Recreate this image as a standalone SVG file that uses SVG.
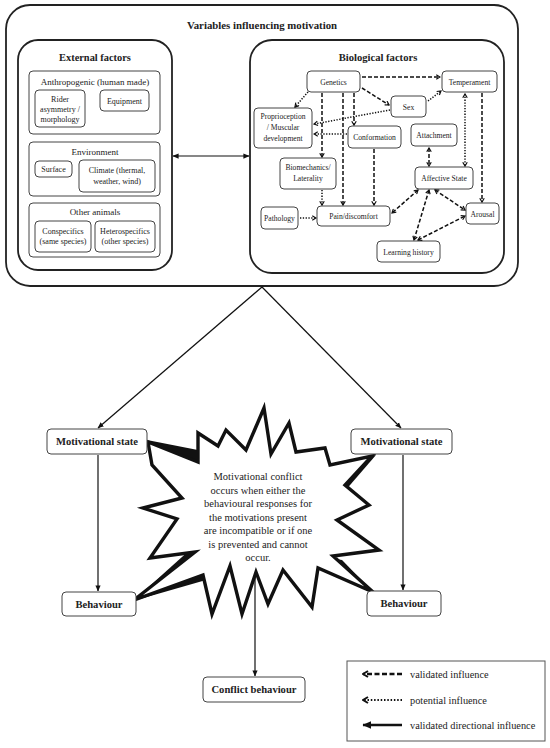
<svg xmlns="http://www.w3.org/2000/svg" width="550" height="748" viewBox="0 0 550 748">
<style>
text{font-family:"Liberation Serif","Times New Roman",serif;fill:#222;text-anchor:middle}
.b{font-weight:bold}
.big{stroke:#222;stroke-width:1.8;fill:#fff}
.grp{stroke:#444;stroke-width:1;fill:#fff}
.nd{stroke:#444;stroke-width:1;fill:#fff}
.t9{font-size:9px}
.t8{font-size:8px}
.t7{font-size:7.6px}
.da{stroke:#111;stroke-width:1.5;stroke-dasharray:4 2;fill:none}
.do{stroke:#111;stroke-width:1.5;stroke-dasharray:1.3 1.5;fill:none}
.so{stroke:#111;stroke-width:1.2;fill:none}
</style>
<defs>
<marker id="ch" viewBox="0 0 8 8" refX="6.5" refY="4" markerWidth="6" markerHeight="6" markerUnits="userSpaceOnUse" orient="auto-start-reverse">
<path d="M1.5,1 L6.5,4 L1.5,7" fill="none" stroke="#111" stroke-width="1.6"/>
</marker>
<marker id="chb" viewBox="0 0 8 8" refX="6.5" refY="4" markerWidth="8" markerHeight="8" markerUnits="userSpaceOnUse" orient="auto-start-reverse">
<path d="M1.5,1 L6.5,4 L1.5,7" fill="none" stroke="#111" stroke-width="2"/>
</marker>
<marker id="ar" viewBox="0 0 8 8" refX="7.5" refY="4" markerWidth="6" markerHeight="6" markerUnits="userSpaceOnUse" orient="auto-start-reverse">
<path d="M0,0.5 L8,4 L0,7.5 z" fill="#111"/>
</marker>
<marker id="arb" viewBox="0 0 8 8" refX="7.5" refY="4" markerWidth="9" markerHeight="9" markerUnits="userSpaceOnUse" orient="auto-start-reverse">
<path d="M0,0.5 L8,4 L0,7.5 z" fill="#111"/>
</marker>
</defs>
<rect width="550" height="748" fill="#fff"/>

<g id="variables">
<rect class="big" x="6" y="5" width="512" height="281" rx="24"/>
<text class="b" x="262" y="29" font-size="10.8">Variables influencing motivation</text>
</g>

<g id="external">
<rect class="big" x="18" y="40" width="154" height="230" rx="20" stroke-width="1.5"/>
<text class="b" x="95" y="61" font-size="10.4">External factors</text>
</g>
<g id="anthropogenic">
<rect class="grp" x="29" y="71" width="131" height="63" rx="4"/>
<text class="t9" x="95" y="85">Anthropogenic (human made)</text>
</g>
<g id="rider">
<rect class="nd" x="35" y="90" width="50" height="37" rx="4"/>
<text class="t8" x="60" y="102">Rider</text>
<text class="t8" x="60" y="112">asymmetry /</text>
<text class="t8" x="60" y="122">morphology</text>
</g>
<g id="equipment">
<rect class="nd" x="100" y="90" width="49" height="21" rx="4"/>
<text class="t8" x="124.5" y="103.5">Equipment</text>
</g>
<g id="environment">
<rect class="grp" x="29" y="142" width="131" height="54" rx="4"/>
<text class="t9" x="95" y="155">Environment</text>
</g>
<g id="surface">
<rect class="nd" x="35" y="161" width="37" height="16" rx="4"/>
<text class="t8" x="53.5" y="171.5">Surface</text>
</g>
<g id="climate">
<rect class="nd" x="79" y="160" width="76" height="32" rx="4"/>
<text class="t8" x="117" y="173">Climate (thermal,</text>
<text class="t8" x="117" y="184">weather, wind)</text>
</g>
<g id="other-animals">
<rect class="grp" x="29" y="203" width="131" height="54" rx="4"/>
<text class="t9" x="95" y="215">Other animals</text>
</g>
<g id="conspecifics">
<rect class="nd" x="35" y="221" width="56" height="31" rx="4"/>
<text class="t8" x="63" y="234">Conspecifics</text>
<text class="t8" x="63" y="244">(same species)</text>
</g>
<g id="heterospecifics">
<rect class="nd" x="95" y="221" width="60" height="31" rx="4"/>
<text class="t8" x="125" y="234">Heterospecifics</text>
<text class="t8" x="125" y="244">(other species)</text>
</g>

<g id="biological">
<rect class="big" x="250" y="40" width="254" height="233" rx="22" stroke-width="1.5"/>
<text class="b" x="378" y="61" font-size="10.6">Biological factors</text>
</g>
<g id="genetics"><rect class="nd" x="307" y="71" width="53" height="21" rx="4"/><text class="t7" x="333.5" y="84.5">Genetics</text></g>
<g id="temperament"><rect class="nd" x="442" y="71" width="55" height="21" rx="4"/><text class="t7" x="469.5" y="84.5">Temperament</text></g>
<g id="sex"><rect class="nd" x="391" y="96" width="35" height="21" rx="4"/><text class="t7" x="408.5" y="109.5">Sex</text></g>
<g id="proprioception"><rect class="nd" x="254" y="108" width="58" height="40" rx="4"/>
<text class="t7" x="283" y="119">Proprioception</text><text class="t7" x="283" y="130">/ Muscular</text><text class="t7" x="283" y="141">development</text></g>
<g id="conformation"><rect class="nd" x="348" y="126" width="53" height="22" rx="4"/><text class="t7" x="374.5" y="139.5">Conformation</text></g>
<g id="attachment"><rect class="nd" x="411" y="124" width="46" height="22" rx="4"/><text class="t7" x="434" y="137.5">Attachment</text></g>
<g id="biomechanics"><rect class="nd" x="280" y="158" width="56" height="31" rx="4"/>
<text class="t7" x="308" y="170">Biomechanics/</text><text class="t7" x="308" y="181">Laterality</text></g>
<g id="affective"><rect class="nd" x="415" y="167" width="58" height="22" rx="4"/><text class="t7" x="444" y="180.5">Affective State</text></g>
<g id="pathology"><rect class="nd" x="261" y="207" width="37" height="22" rx="4"/><text class="t7" x="279.5" y="220.5">Pathology</text></g>
<g id="pain"><rect class="nd" x="317" y="206" width="73" height="20" rx="4"/><text class="t7" x="353.5" y="218.5">Pain/discomfort</text></g>
<g id="arousal"><rect class="nd" x="466" y="203" width="33" height="21" rx="4"/><text class="t7" x="482.5" y="216.5">Arousal</text></g>
<g id="learning"><rect class="nd" x="377" y="241" width="63" height="21" rx="4"/><text class="t7" x="408.5" y="254.5">Learning history</text></g>

<g id="connectors">
<line class="da" x1="362" y1="77" x2="440" y2="77" marker-end="url(#ch)"/>
<line class="da" x1="362" y1="88" x2="389" y2="105" marker-end="url(#ch)"/>
<line class="do" x1="428" y1="101" x2="441" y2="91" marker-end="url(#ch)"/>
<line class="do" x1="308" y1="92" x2="295" y2="107" marker-end="url(#ch)"/>
<line class="do" x1="390" y1="110" x2="314" y2="124" marker-end="url(#ch)"/>
<line class="do" x1="347" y1="134" x2="314" y2="134" marker-end="url(#ch)"/>
<line class="da" x1="322" y1="93" x2="322" y2="157" marker-end="url(#ch)"/>
<line class="da" x1="343" y1="93" x2="343" y2="205" marker-end="url(#ch)"/>
<line class="da" x1="354" y1="93" x2="354" y2="125" marker-end="url(#ch)"/>
<line class="da" x1="374" y1="149" x2="374" y2="205" marker-end="url(#ch)"/>
<line class="do" x1="322" y1="190" x2="322" y2="205" marker-end="url(#ch)"/>
<line class="do" x1="300" y1="218" x2="316" y2="218" marker-end="url(#ch)"/>
<line class="da" x1="482" y1="93" x2="482" y2="202" marker-end="url(#ch)"/>
<line class="do" x1="465" y1="94" x2="465" y2="166" marker-start="url(#ch)" marker-end="url(#ch)"/>
<line class="da" x1="429" y1="148" x2="429" y2="166" marker-start="url(#ch)" marker-end="url(#ch)"/>
<line class="da" x1="418" y1="190" x2="392" y2="213" marker-start="url(#ch)" marker-end="url(#ch)"/>
<line class="da" x1="429" y1="190" x2="414" y2="240" marker-start="url(#ch)" marker-end="url(#ch)"/>
<line class="da" x1="435" y1="190" x2="465" y2="210" marker-start="url(#ch)" marker-end="url(#ch)"/>
<line class="da" x1="418" y1="240" x2="465" y2="216" marker-start="url(#ch)" marker-end="url(#ch)"/>
<line class="so" x1="173" y1="156" x2="249" y2="156" stroke-width="1.4" marker-start="url(#ar)" marker-end="url(#ar)"/>
<line class="so" x1="262" y1="287" x2="98" y2="428" marker-end="url(#ar)"/>
<line class="so" x1="262" y1="287" x2="401" y2="428" marker-end="url(#ar)"/>
<line class="so" x1="98" y1="455" x2="98" y2="591" marker-end="url(#ar)"/>
<line class="so" x1="403" y1="455" x2="403" y2="590" marker-end="url(#ar)"/>
<line class="so" x1="255" y1="574" x2="255" y2="676" marker-end="url(#ar)"/>
</g>

<g id="conflict-burst">
<polygon points="147,440 208,452 203,482" fill="#111"/>
<polygon points="133,601 192,548 206,580" fill="#111"/>
<polygon points="376,455 332,470 344,492" fill="#111"/>
<polygon points="374,593 318,556 342,560" fill="#111"/>
<polygon fill="#fff" stroke="#111" stroke-width="3.4" stroke-linejoin="miter" stroke-miterlimit="10" points="264,408 271,454 289,423 296,452 325,448 330,465 372,456 345,485 369,505 337,520 379,550 333,556 373,592 318,568 312,607 283,570 268,604 256,572 242,614 230,566 212,614 203,575 134,600 195,552 150,558 177,519 143,508 182,498 152,465 148,442 198,462 198,433 218,446 226,430 246,450"/>
<text x="258" y="480" font-size="10.5">Motivational conflict</text>
<text x="258" y="493.5" font-size="10.5">occurs when either the</text>
<text x="258" y="507" font-size="10.5">behavioural responses for</text>
<text x="258" y="520.5" font-size="10.5">the motivations present</text>
<text x="258" y="534" font-size="10.5">are incompatible or if one</text>
<text x="258" y="547.5" font-size="10.5">is prevented and cannot</text>
<text x="258" y="561" font-size="10.5">occur.</text>
</g>

<g id="motivational-state-left">
<rect class="nd" x="47" y="429" width="100" height="25" rx="4"/>
<text class="b" x="97" y="445" font-size="10.6">Motivational state</text>
</g>
<g id="motivational-state-right">
<rect class="nd" x="351" y="429" width="101" height="25" rx="4"/>
<text class="b" x="401.5" y="445" font-size="10.6">Motivational state</text>
</g>
<g id="behaviour-left">
<rect class="nd" x="62" y="592" width="74" height="24" rx="4"/>
<text class="b" x="99" y="607.5" font-size="10.6">Behaviour</text>
</g>
<g id="behaviour-right">
<rect class="nd" x="367" y="591" width="74" height="25" rx="4"/>
<text class="b" x="404" y="607" font-size="10.6">Behaviour</text>
</g>
<g id="conflict-behaviour">
<rect class="nd" x="203" y="677" width="102" height="25" rx="4"/>
<text class="b" x="254" y="693" font-size="10.6">Conflict behaviour</text>
</g>

<g id="legend">
<rect x="347" y="661" width="198" height="80" fill="#fff" stroke="#555" stroke-width="1"/>
<line x1="402" y1="674" x2="363" y2="674" stroke="#111" stroke-width="2.4" stroke-dasharray="5 2.5" marker-end="url(#chb)"/>
<line x1="402" y1="700" x2="363" y2="700" stroke="#111" stroke-width="2.2" stroke-dasharray="1.5 1.8" marker-end="url(#chb)"/>
<line x1="402" y1="725" x2="363" y2="725" stroke="#111" stroke-width="2.4" marker-end="url(#arb)"/>
<text x="410" y="677.5" font-size="10.3" style="text-anchor:start">validated influence</text>
<text x="410" y="703.5" font-size="10.3" style="text-anchor:start">potential influence</text>
<text x="410" y="728.5" font-size="10.3" style="text-anchor:start">validated directional influence</text>
</g>
</svg>
